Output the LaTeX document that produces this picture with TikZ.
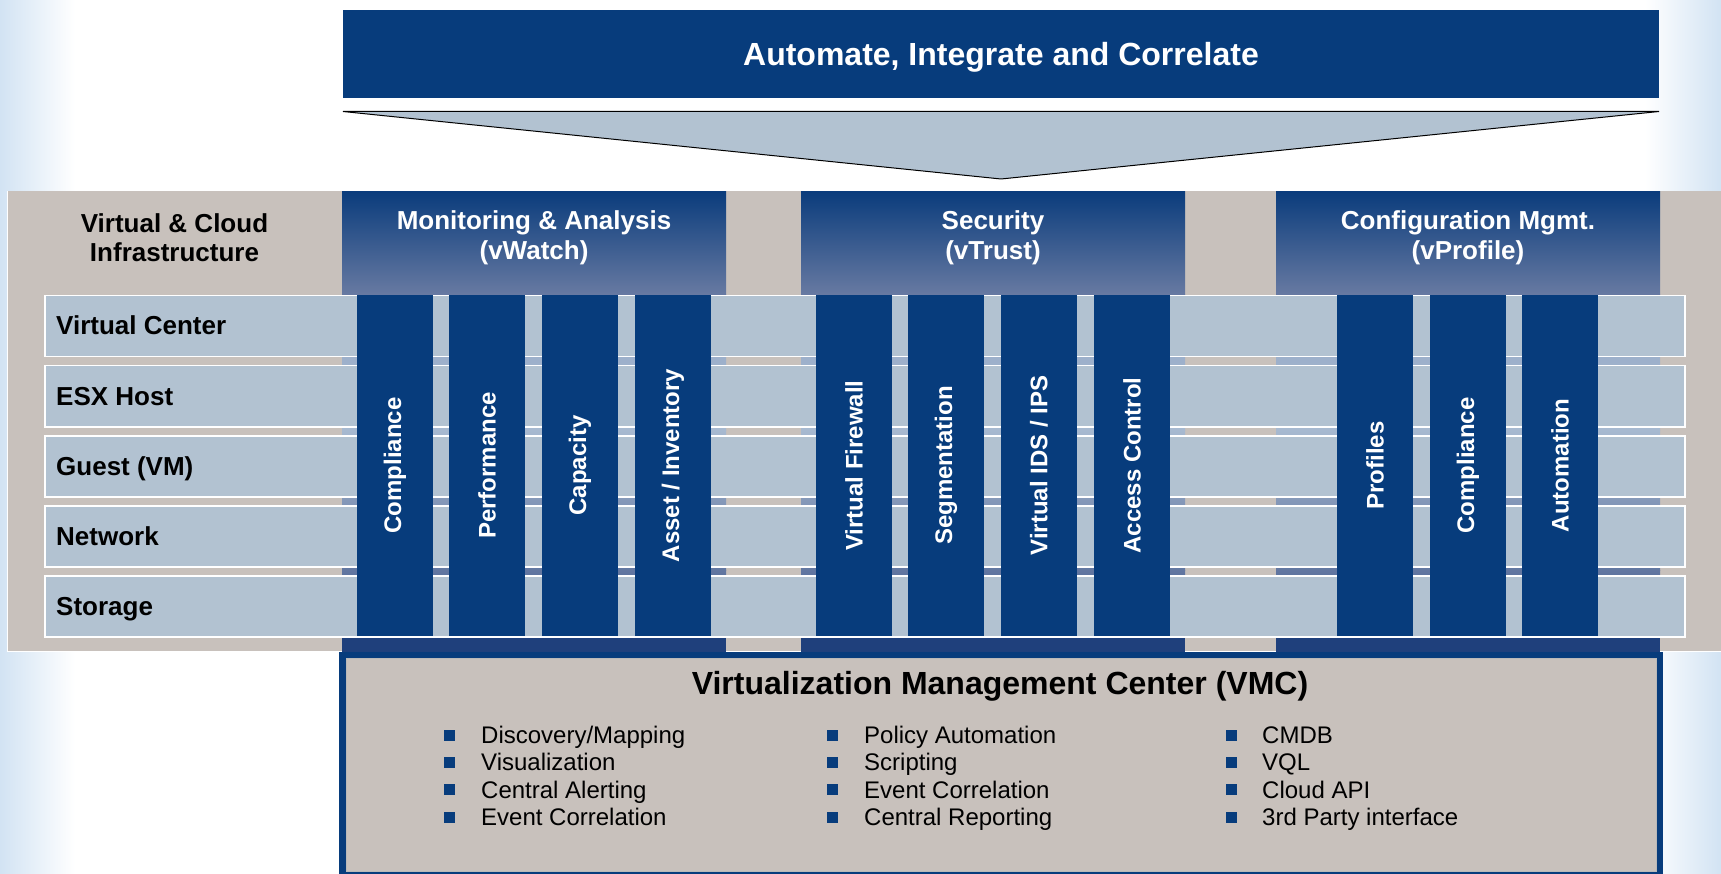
\documentclass[tikz,border=0pt]{standalone}
\usepackage{fontspec}
\setmainfont{Liberation Sans}
\definecolor{dblue}{RGB}{7,60,124}
\definecolor{rowfill}{RGB}{178,194,209}
\definecolor{tanbg}{RGB}{200,193,188}
\definecolor{hdtop}{RGB}{10,60,124}
\definecolor{hdbot}{RGB}{104,122,162}
\definecolor{bandA}{RGB}{148,168,198}
\definecolor{bandB}{RGB}{167,185,208}
\definecolor{bandC}{RGB}{98,119,161}
\definecolor{bandD}{RGB}{50,80,138}
\definecolor{stripc}{RGB}{31,64,124}
\definecolor{bgblue}{RGB}{210,227,243}
\tikzset{
  rowbox/.style={draw=white, line width=1.5pt, fill=rowfill, anchor=north west,
    minimum width=1640pt, minimum height=61pt, inner sep=0pt},
  rowtext/.style={anchor=base west, inner sep=0pt, font=\bfseries\fontsize{26}{30}\selectfont},
  colbox/.style={fill=dblue, rotate=90, minimum width=341pt, minimum height=76pt,
    inner sep=0pt, text=white, font=\bfseries\fontsize{24}{28}\selectfont},
  hdrbox/.style={top color=hdtop, bottom color=hdbot, anchor=north west,
    minimum height=104pt, inner sep=0pt},
  hdrtext/.style={align=center, text=white, inner sep=0pt,
    font=\bfseries\fontsize{26}{29.6}\selectfont},
  bulletsq/.style={fill=dblue, minimum size=11pt, inner sep=0pt},
  bullettext/.style={anchor=base west, inner sep=0pt, font=\fontsize{24}{27}\selectfont}
}
\begin{document}
\begin{tikzpicture}[x=1pt,y=-1pt]
\useasboundingbox (0,0) rectangle (1721,874);
% background
\fill[white] (0,0) rectangle (1721,874);
\shade[left color=bgblue, right color=white] (0,0) rectangle (75,874);
\shade[left color=white, right color=bgblue] (1645,0) rectangle (1721,874);
% top banner
\node[fill=dblue, anchor=north west, minimum width=1316pt, minimum height=88pt, inner sep=0pt]
  (banner) at (343,10) {};
\node[text=white, inner sep=0pt, font=\bfseries\fontsize{32}{36}\selectfont] (bannertxt)
  at (1001,57.5) {Automate, Integrate and Correlate};
\draw[fill=rowfill, line width=1pt] (343,111.5) -- (1659,111.5) -- (1001,179) -- cycle;
% panel
\fill[tanbg] (7,191) rectangle (1721,652);
\draw[white, line width=1pt] (7.5,191) -- (7.5,651.5) -- (1721,651.5);
% header bands
\foreach \a/\b in {342/726, 801/1185, 1276/1660} {
  \shade[top color=bandA, bottom color=bandB] (\a,294.5) rectangle (\b,430.5);
  \shade[top color=bandB, bottom color=bandC] (\a,430) rectangle (\b,570.5);
  \shade[top color=bandC, bottom color=bandD] (\a,570) rectangle (\b,636.5);
  \fill[stripc] (\a,636) rectangle (\b,652);
}
\node[hdrbox, minimum width=384pt] (mon) at (342,191) {};
\node[hdrbox, minimum width=384pt] (sec) at (801,191) {};
\node[hdrbox, minimum width=384pt] (cfg) at (1276,191) {};
\node[hdrtext] (montxt) at (534,237.7) {Monitoring \& Analysis\\(vWatch)};
\node[hdrtext] (sectxt) at (993,237.7) {Security\\(vTrust)};
\node[hdrtext] (cfgtxt) at (1468,237.7) {Configuration Mgmt.\\(vProfile)};
\node[hdrtext, text=black] (infra) at (174.5,237.7) {Virtual \& Cloud\\Infrastructure};
% rows
\node[rowbox] (vc) at (44,295) {};
\node[rowbox] (esx) at (44,365) {};
\node[rowbox] (guest) at (44,435) {};
\node[rowbox] (net) at (44,505) {};
\node[rowbox] (stor) at (44,575) {};
\node[rowtext] (vctxt) at (56,335) {Virtual Center};
\node[rowtext] (esxtxt) at (56,405) {ESX Host};
\node[rowtext] (guesttxt) at (56,475) {Guest (VM)};
\node[rowtext] (nettxt) at (56,545) {Network};
\node[rowtext] (stortxt) at (56,615) {Storage};
% columns
\node[colbox] (m1) at (395,465.5) {Compliance};
\node[colbox] (m2) at (487,465.5) {Performance};
\node[colbox] (m3) at (580,465.5) {Capacity};
\node[colbox] (m4) at (673,465.5) {Asset / Inventory};
\node[colbox] (s1) at (854,465.5) {Virtual Firewall};
\node[colbox] (s2) at (946,465.5) {Segmentation};
\node[colbox] (s3) at (1039,465.5) {Virtual IDS / IPS};
\node[colbox] (s4) at (1132,465.5) {Access Control};
\node[colbox] (c1) at (1375,465.5) {Profiles};
\node[colbox] (c2) at (1468,465.5) {Compliance};
\node[colbox] (c3) at (1560,465.5) {Automation};
% VMC box
\fill[dblue] (339,652) rectangle (1663,874);
\node[fill=tanbg, draw=gray!55, line width=0.8pt, anchor=north west, minimum width=1310pt,
  minimum height=213pt, inner sep=0pt] (vmc) at (346,658) {};
\node[font=\bfseries\fontsize{32}{36}\selectfont, inner sep=0pt] (vmctitle) at (1000,686)
  {Virtualization Management Center (VMC)};
% bullets
\foreach \t [count=\i] in {Discovery/Mapping, Visualization, Central Alerting, Event Correlation} {
  \node[bulletsq] (ba\i) at (449,{735+27.4*(\i-1)}) {};
  \node[bullettext] (ta\i) at (481,{743.5+27.4*(\i-1)}) {\t};
}
\foreach \t [count=\i] in {Policy Automation, Scripting, Event Correlation, Central Reporting} {
  \node[bulletsq] (bb\i) at (832,{735+27.4*(\i-1)}) {};
  \node[bullettext] (tb\i) at (864,{743.5+27.4*(\i-1)}) {\t};
}
\foreach \t [count=\i] in {CMDB, VQL, Cloud API, 3rd Party interface} {
  \node[bulletsq] (bc\i) at (1231,{735+27.4*(\i-1)}) {};
  \node[bullettext] (tc\i) at (1262,{743.5+27.4*(\i-1)}) {\t};
}
\end{tikzpicture}
\end{document}
